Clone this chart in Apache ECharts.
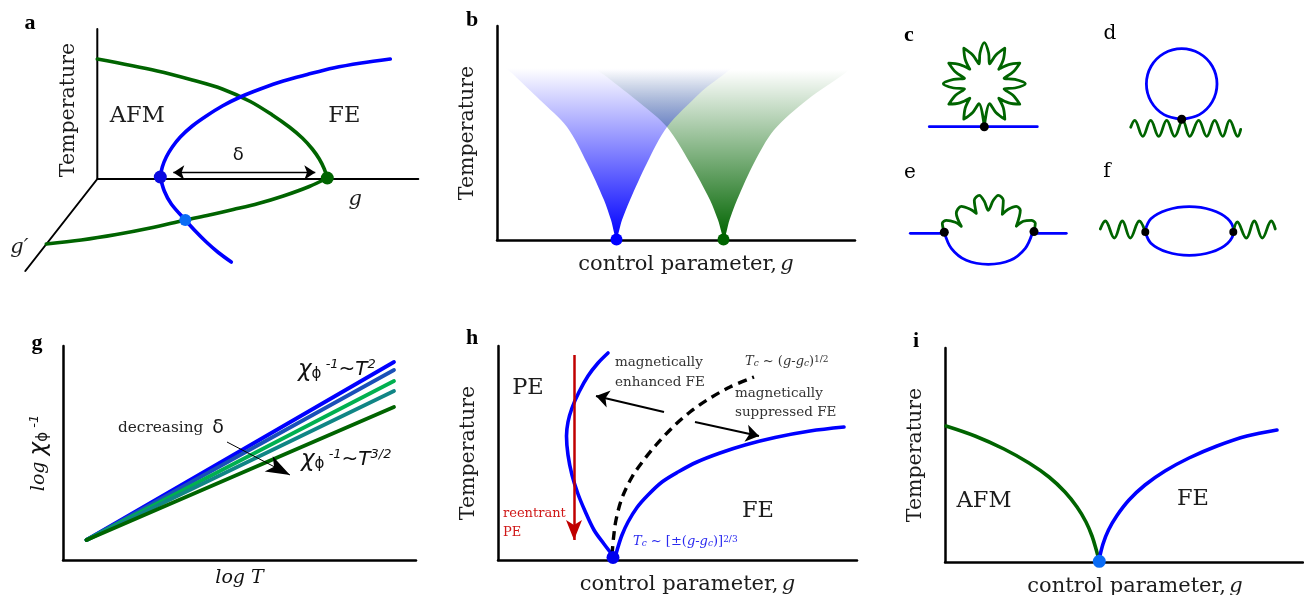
<!DOCTYPE html>
<html>
<head>
<meta charset="utf-8">
<title>Phase diagrams</title>
<script src="https://cdn.jsdelivr.net/npm/echarts@6/dist/echarts.min.js"></script>
<style>
  html, body { margin: 0; padding: 0; background: #fff; }
  #main { width: 1304px; height: 595px; }
</style>
</head>
<body>
<div id="main"></div>
<script>
// every panel's values are in arbitrary units, origin at the panel's axis corner

// a: phase boundaries
var aAfmUpper = [[0,120],[60,108],[95,99],[125,90],[153,77.5],[175,64],[192,52],[205,41],[215,30],[222,20],[227,10],[230,1]];
var aAfmLower = [[230,1],[212,-7.5],[186,-17],[161,-24.5],[136,-30.5],[112,-36],[88,-41],[53,-49],[19,-55.5],[-16,-61],[-51,-65]];
var aFeUpper = [[63,2],[65,12],[69,22],[75,32],[83,42],[95,53],[109,63],[125,73],[143,82],[163,90],[186,98],[210,104.5],[236,111],[264,116],[293,120]];
var aFeLower = [[63,2],[67,-12],[74,-25],[88,-41],[98,-52],[109,-63],[121,-73.5],[134,-83]];
var aAxes = [[0,150],[0,0],[321,0]];
var aDepthAxis = [[0,0],[-72,-92]];
var aBlueDot = [[63,2]], aGreenDot = [[230,1]], aQcpDot = [[88,-41]];
var aDelta = [[76,6.5],[218,6.5]];

// b: critical fans
var bBlueFan = [[119.3,2],[114,20],[107,40],[90,77],[70,113],[43,140],[17,165],[3,180],[238,180],[203,147],[170,113],[150,77],[133,40],[125,20]];
var bGreenFan = [[227,2],[221,20],[213,40],[193,77],[170,113],[143,137],[110,163],[90,180],[360,180],[352,170],[310,140],[277,110],[257,77],[240,40],[232.5,20]];
var bBlueDot = [[119.5,0.5]], bGreenDot = [[226.5,0.5]];

// c-f: diagrams
var cLine = [[-55,0],[53,0]];
var cBoson = [[0,0],[5.3,23],[11.6,14.3],[20.5,7.5],[19.1,18.6],[14.5,28.5],[24.4,23.9],[35.5,22.5],[28.7,31.4],[19.8,37.7],[30.7,38.7],[41,43],[30.7,47.3],
  [19.8,48.3],[28.7,54.6],[35.5,63.5],[24.4,62.1],[14.5,57.5],[19.1,67.4],[20.5,78.5],[11.6,71.7],[5.3,62.8],[4.3,73.7],[0,84],
  [-4.3,73.7],[-5.3,62.8],[-11.6,71.7],[-20.5,78.5],[-19.1,67.4],[-14.5,57.5],[-24.4,62.1],[-35.5,63.5],[-28.7,54.6],[-19.8,48.3],[-30.7,47.3],[-41,43],
  [-30.7,38.7],[-19.8,37.7],[-28.7,31.4],[-35.5,22.5],[-24.4,23.9],[-14.5,28.5],[-19.1,18.6],[-20.5,7.5],[-11.6,14.3],[-5.3,23],[0,0]];
var dLoop = [[0,0],[17.7,4.7],[30.6,17.7],[35.3,35.3],[30.6,53],[17.7,65.9],[0,70.6],[-17.7,65.9],[-30.6,53],[-35.3,35.3],[-30.6,17.7],[-17.7,4.7],[0,0]];
var dBoson = [[-51,-8],[-47,-1],[-39,-17],[-31,-1],[-23,-17],[-15,-1],[-7,-17],[1,-1],[8,-17],[17,-1],[25,-17],[33,-1],[41,-17],[48,-1],[56,-17],[59,-10]];
var eLeft = [[-78,-1],[-44,-1]], eRight = [[46,-1],[78,-1]];
var eArc = [[-44,0],[-37,-16],[-22,-28],[0,-32],[22,-28],[37,-16],[44,-1]];
var eBoson = [[-45,3],[-46,9],[-42,12],[-33,10],[-27,6],[-32,19],[-27,26],[-18,23],[-12,19],[-14,32],[-9,37],[-4,31],[0,22],[5,32],[10,37],[15,32],
  [14,18],[20,23],[28,26],[32,22],[28,6],[35,11],[43,12],[47,9],[46,2]];
var eDots = [[-44,0],[45.7,0.7]];
var fLoop = [[-44.3,0],[-38.4,12.2],[-22.2,21],[0,24.3],[22.2,21],[38.4,12.2],[44.3,0],[38.4,-12.2],[22.2,-21],[0,-24.3],[-22.2,-21],[-38.4,-12.2],[-44.3,0]];
var fBosonLeft = [[-89,2],[-84,10],[-75,-7],[-67,10],[-59,-7],[-50,10],[-44,-1]];
var fBosonRight = [[44,-1],[48,9],[57,-7],[65,10],[73,-7],[82,10],[86,2]];
var fDots = [[-44,-1],[44,-1]];

// g: log-log lines, first point shared
var gStart = [23.5,20];
var gEnds = [[331,198],[331,190],[331,179],[331,169],[331,153]];
var gColors = ['#0000ff','#1a50b8','#00b050','#108585','#006400'];
var gArrow = [[164,118],[227,85]];

// h: reentrant diagram
var hLeftBranch = [[116,3],[106,16],[96,30],[87,49],[80,66],[74,85],[70,105],[68.5,124],[70,138],[74,152],[81,168],[90,184],[100,197],[110,207]];
var hRightBranch = [[117,2],[120,13],[124,25],[130,38],[139,52.5],[150,65],[164,78],[180,88],[199,98],[222,107],[247,115],[277,122.5],[312,129],[346,133]];
var hMeanField = [[114,5],[115.5,22],[118,40],[124,62],[134,83],[145,99],[158,115],[176,134],[192,148],[209,160],[232,173],[256,183]];
var hDot = [[115,2.5]];
var hRedArrow = [[76,205],[76,20]];
var hArrowEnhanced = [[166,148],[98,164]];
var hArrowSuppressed = [[197,138],[261,124]];

// i: single critical point
var iAfm = [[1,136],[30,126],[59,113],[84,99],[104,85],[120,70],[132,55],[141,40],[147,26],[151,13],[154,2]];
var iFe = [[154,2],[158,18],[163.5,32],[172,46.5],[184,62],[200,77],[220,91],[244,104],[272,116],[302,126],[332,132]];
var iDot = [[154.3,0.7]];

var panelLetters = ['a','b','c','d','e','f','g','h','i'];
var letterPos = [[30,23],[472,20],[909,35],[1110,34],[910,173],[1107,172],[37,343],[472,338],[916,341]];
var boldLetters = ['a','b','c','g','h','i'];

var BLUE = '#0000ff', GREEN = '#006400', QCP = '#0a6cf5', BLACK = '#000000', RED = '#c00000';
var SERIF = '"DejaVu Serif"', SANS = '"DejaVu Sans"';
var TEXT = '#1c1c1c';

var richStyles = {
  i: { fontStyle: 'italic', fontFamily: SERIF, fontSize: 21, color: TEXT },
  n: { fontFamily: SERIF, fontSize: 21, color: TEXT },
  big22: { fontFamily: SERIF, fontSize: 22.5, color: TEXT },
  temp: { fontFamily: SERIF, fontSize: 20.5, color: TEXT },
  chi: { fontFamily: SANS, fontStyle: 'italic', fontSize: 23, color: '#111' },
  phi: { fontFamily: SANS, fontSize: 15, color: '#111', verticalAlign: 'bottom' },
  sup: { fontFamily: SANS, fontStyle: 'italic', fontSize: 13, color: '#111', verticalAlign: 'top' },
  big: { fontFamily: SANS, fontStyle: 'italic', fontSize: 20, color: '#111' },
  logi: { fontFamily: SERIF, fontStyle: 'italic', fontSize: 19, color: '#111' },
  ds: { fontFamily: SANS, fontSize: 19, color: '#111' },
  n2: { fontFamily: SERIF, fontSize: 15.3, color: '#222', padding: [0, 9, 0, 0] },
  t: { fontStyle: 'italic', fontFamily: SERIF, fontSize: 13, color: '#333' },
  s: { fontFamily: SERIF, fontSize: 13, color: '#333' },
  sb: { fontStyle: 'italic', fontFamily: SERIF, fontSize: 9, color: '#333', verticalAlign: 'bottom' },
  sp: { fontFamily: SERIF, fontSize: 9, color: '#333', verticalAlign: 'top' },
  tb: { fontStyle: 'italic', fontFamily: SERIF, fontSize: 13, color: '#2a2af0' },
  ub: { fontFamily: SERIF, fontSize: 13, color: '#2a2af0' },
  sbb: { fontStyle: 'italic', fontFamily: SERIF, fontSize: 9, color: '#2a2af0', verticalAlign: 'bottom' },
  spb: { fontFamily: SERIF, fontSize: 9, color: '#2a2af0', verticalAlign: 'top' }
};

var CONTROL_G = '{n|control parameter,} {i|g}';
var grids = [], xAxes = [], yAxes = [], series = [];

function hiddenPanel(left, top, x0, x1, y0, y1) {
  var n = grids.length;
  grids.push({ left: left, top: top, width: x1 - x0, height: y1 - y0, outerBoundsMode: 'none' });
  xAxes.push({ gridIndex: n, type: 'value', min: x0, max: x1, show: false });
  yAxes.push({ gridIndex: n, type: 'value', min: y0, max: y1, show: false });
  return n;
}

function axisPanel(left, top, w, h, xName, yName, xShift, xGap, yGap) {
  var n = grids.length;
  var line = { show: true, onZero: false, lineStyle: { color: BLACK, width: 2.5 } };
  grids.push({ left: left, top: top, width: w, height: h, outerBoundsMode: 'none' });
  xAxes.push({
    gridIndex: n, type: 'value', min: 0, max: w, axisLine: line, axisTick: { show: false },
    axisLabel: { show: false }, splitLine: { show: false },
    name: xName, nameLocation: 'middle', nameGap: xGap,
    nameTextStyle: { rich: richStyles, padding: [0, 0, 0, xShift * 2] }
  });
  yAxes.push({
    gridIndex: n, type: 'value', min: 0, max: h, axisLine: line, axisTick: { show: false },
    axisLabel: { show: false }, splitLine: { show: false },
    name: yName, nameLocation: 'middle', nameGap: yGap, nameRotate: 90,
    nameTextStyle: { rich: richStyles }
  });
  return n;
}

function curve(n, data, color, width, smooth, extra) {
  var s = {
    type: 'line', xAxisIndex: n, yAxisIndex: n, data: data, showSymbol: false, symbol: 'none',
    smooth: smooth, clip: false, silent: true, animation: false,
    lineStyle: { color: color, width: width, cap: 'round', join: 'round' }
  };
  if (extra) { for (var k in extra) { s.lineStyle[k] = extra[k]; } }
  series.push(s);
}

function dots(n, data, color, size) {
  series.push({
    type: 'scatter', xAxisIndex: n, yAxisIndex: n, data: data, symbolSize: size, clip: false,
    silent: true, animation: false, z: 5, itemStyle: { color: color, opacity: 1 }
  });
}

function arrow(n, seg, color, width, head, both) {
  series.push({
    type: 'line', xAxisIndex: n, yAxisIndex: n, data: [], silent: true, animation: false,
    markLine: {
      silent: true, animation: false, label: { show: false },
      symbol: [both ? 'arrow' : 'none', 'arrow'], symbolSize: head,
      lineStyle: { color: color, width: width, type: 'solid' },
      data: [[{ coord: seg[0] }, { coord: seg[1] }]]
    }
  });
}

function note(n, x, y, text, size, color, family, align, rotate) {
  series.push({
    type: 'scatter', xAxisIndex: n, yAxisIndex: n, symbolSize: 1, clip: false, silent: true, animation: false,
    itemStyle: { color: 'transparent', opacity: 1 }, z: 6,
    data: [[x, y]],
    label: {
      show: true, position: 'inside', formatter: text, fontSize: size, color: color, fontFamily: family || SERIF,
      align: align || 'center', verticalAlign: 'middle', rotate: rotate || 0, rich: richStyles
    }
  });
}

function fan(n, pts, rgb, top) {
  series.push({
    type: 'custom', xAxisIndex: n, yAxisIndex: n, silent: true, animation: false, clip: false,
    data: [[pts[0][0], pts[0][1]]],
    renderItem: function (params, api) {
      return {
        type: 'polygon',
        shape: { points: pts.map(function (p) { return api.coord(p); }), smooth: 0.3 },
        style: {
          fill: {
            type: 'linear', x: 0, y: 1, x2: 0, y2: 0,
            colorStops: [
              { offset: 0, color: 'rgba(' + rgb + ',1)' },
              { offset: top, color: 'rgba(' + rgb + ',0)' },
              { offset: 1, color: 'rgba(' + rgb + ',0)' }
            ]
          }
        }
      };
    }
  });
}

// panel a
var pa = hiddenPanel(17.3, 21, -80, 331, -102, 158);
curve(pa, aAxes, BLACK, 2, false);
curve(pa, aDepthAxis, BLACK, 2, false);
curve(pa, aAfmUpper, GREEN, 3.6, 0.33);
curve(pa, aAfmLower, GREEN, 3.6, 0.33);
curve(pa, aFeUpper, BLUE, 3.6, 0.33);
curve(pa, aFeLower, BLUE, 3.6, 0.33);
dots(pa, aBlueDot, '#0a0ae0', 13);
dots(pa, aGreenDot, GREEN, 13);
dots(pa, aQcpDot, QCP, 12);
arrow(pa, aDelta, BLACK, 1.4, 11, true);
note(pa, 40, 63, '{big22|AFM}', 22, TEXT);
note(pa, 247, 63, '{big22|FE}', 22, TEXT);
note(pa, 141, 24, 'δ', 18, '#111', SANS);
note(pa, 258, -21, '{i|g}', 20, TEXT);
note(pa, -78, -69, '{i|g′}', 20, TEXT);
note(pa, -29, 69, '{temp|Temperature}', 20.5, TEXT, SERIF, 'center', 90);

// panel b
var pb = axisPanel(497, 26, 358, 214, CONTROL_G, '{temp|Temperature}', 10, 14, 19);
fan(pb, bGreenFan, '0,100,0', 0.93);
fan(pb, bBlueFan, '0,0,255', 0.93);
dots(pb, bBlueDot, BLUE, 12);
dots(pb, bGreenDot, GREEN, 12);

// panels c-f
var pc = hiddenPanel(914.3, 26.7, -70, 70, -10, 100);
curve(pc, cLine, BLUE, 2.8, false);
curve(pc, cBoson, GREEN, 2.8, 0.33);
dots(pc, [[0,0]], BLACK, 9);

var pd = hiddenPanel(1121.7, 44.3, -60, 60, -20, 75);
curve(pd, dLoop, BLUE, 2.8, 0.33);
curve(pd, dBoson, GREEN, 2.8, 0.4);
dots(pd, [[0,0]], BLACK, 9);

var pe = hiddenPanel(908.3, 192.3, -80, 80, -35, 40);
curve(pe, eLeft, BLUE, 2.8, false);
curve(pe, eRight, BLUE, 2.8, false);
curve(pe, eArc, BLUE, 2.8, 0.33);
curve(pe, eBoson, GREEN, 2.8, 0.33);
dots(pe, eDots, BLACK, 9);

var pf = hiddenPanel(1097.3, 201, -92, 92, -30, 30);
curve(pf, fLoop, BLUE, 2.8, 0.33);
curve(pf, fBosonLeft, GREEN, 2.8, 0.4);
curve(pf, fBosonRight, GREEN, 2.8, 0.4);
dots(pf, fDots, BLACK, 8);

// panel g
var pg = axisPanel(63, 346, 353, 214, '{logi|log T}', '{logi|log }{chi|χ}{phi|ϕ}{sup| -1}', 0, 9, 12);
gEnds.forEach(function (end, i) {
  curve(pg, [gStart, end], gColors[i], 3.8, false);
});
arrow(pg, gArrow, BLACK, 1, [13, 24], false);
note(pg, 55, 132, '{n2|decreasing}{ds|δ}', 15, '#222', SERIF, 'left');
note(pg, 235, 190, '{chi|χ}{phi|ϕ}{sup| -1}{big|~T}{sup|2}', 20, '#111', SANS, 'left');
note(pg, 238, 100, '{chi|χ}{phi|ϕ}{sup| -1}{big|~T}{sup|3/2}', 20, '#111', SANS, 'left');

// panel h
var ph = axisPanel(498, 346, 359, 214, CONTROL_G, '{temp|Temperature}', 10, 14, 19);
curve(ph, hLeftBranch, BLUE, 3.6, 0.33);
curve(ph, hRightBranch, BLUE, 3.6, 0.33);
curve(ph, hMeanField, BLACK, 3.4, 0.33, { type: [9, 6], cap: 'butt' });
arrow(ph, hRedArrow, RED, 2.5, [12, 20], false);
arrow(ph, hArrowEnhanced, BLACK, 2, 13, false);
arrow(ph, hArrowSuppressed, BLACK, 2, 13, false);
dots(ph, hDot, '#0000ee', 13);
note(ph, 30, 172, '{big22|PE}', 22, TEXT);
note(ph, 260, 49, '{big22|FE}', 22, TEXT);
note(ph, 117, 198, 'magnetically', 13.5, '#333', SERIF, 'left');
note(ph, 117, 178, 'enhanced FE', 13.5, '#333', SERIF, 'left');
note(ph, 237, 167, 'magnetically', 13.5, '#333', SERIF, 'left');
note(ph, 237, 148, 'suppressed FE', 13.5, '#333', SERIF, 'left');
note(ph, 5, 46, 'reentrant', 13, '#d01818', SERIF, 'left');
note(ph, 5, 27, 'PE', 13, '#d01818', SERIF, 'left');
note(ph, 247, 198, '{t|T}{sb|c}{s| ~ (}{t|g}{s|-}{t|g}{sb|c}{s|)}{sp|1/2}', 13, '#333', SERIF, 'left');
note(ph, 135, 18, '{tb|T}{sbb|c}{ub| ~ [±(}{tb|g}{ub|-}{tb|g}{sbb|c}{ub|)]}{spb|2/3}', 13, '#2a2af0', SERIF, 'left');

// panel i
var pi = axisPanel(945, 348, 358, 214, CONTROL_G, '{temp|Temperature}', 11, 14, 19);
curve(pi, iAfm, GREEN, 3.6, 0.33);
curve(pi, iFe, BLUE, 3.6, 0.33);
dots(pi, iDot, QCP, 13);
note(pi, 39, 61, '{big22|AFM}', 22, TEXT);
note(pi, 248, 63, '{big22|FE}', 22, TEXT);

var titles = panelLetters.map(function (t, i) {
  var bold = boldLetters.indexOf(t) >= 0;
  return {
    text: t, left: letterPos[i][0], top: letterPos[i][1], textAlign: 'center', textVerticalAlign: 'middle',
    padding: 0,
    textStyle: {
      fontFamily: bold ? '"Liberation Serif"' : SERIF, fontSize: bold ? 22 : 20,
      fontWeight: bold ? 'bold' : 'normal', color: '#000'
    }
  };
});

var myChart = echarts.init(document.getElementById('main'), null, { renderer: 'canvas' });
myChart.setOption({
  animation: false,
  backgroundColor: '#ffffff',
  title: titles,
  grid: grids,
  xAxis: xAxes,
  yAxis: yAxes,
  series: series
});
</script>
</body>
</html>
